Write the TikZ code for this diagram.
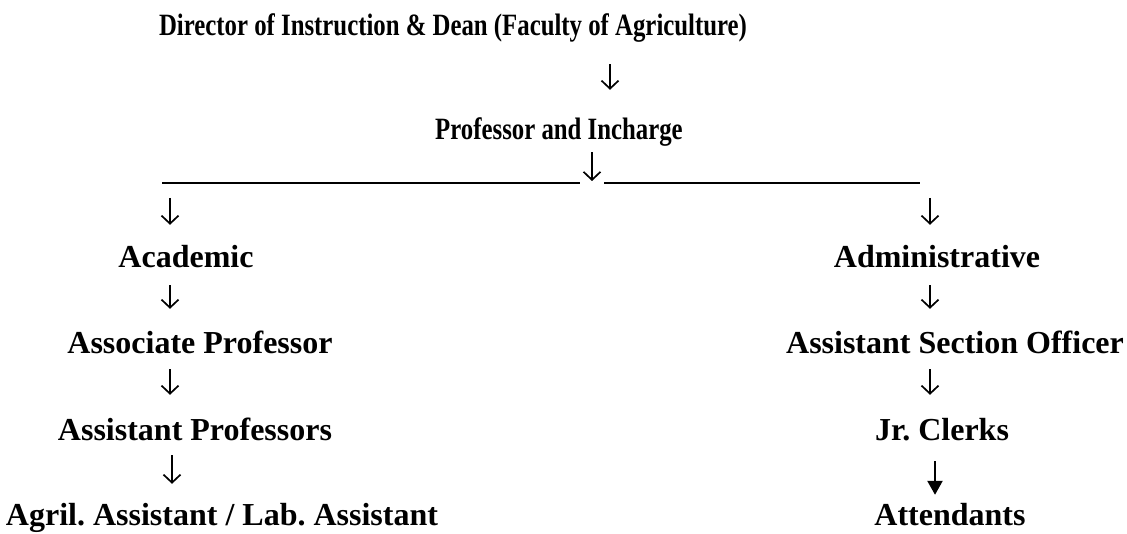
\documentclass[tikz,border=0pt]{standalone}
\usepackage{fontspec}
\setmainfont{Liberation Serif}
\newfontfamily\condfont{Liberation Serif}[FakeStretch=0.8]
\usetikzlibrary{arrows.meta}
\begin{document}
\frenchspacing
\begin{tikzpicture}[x=1pt,y=-1pt,
  big/.style={font=\fontsize{32}{38}\selectfont\bfseries, anchor=base, inner sep=0pt, text height=23pt, text depth=7pt},
  small/.style={font=\condfont\fontsize{31}{36}\selectfont\bfseries, anchor=base, inner sep=0pt, text height=22pt, text depth=7pt},
  arr/.style={line width=1.7pt, -{Straight Barb[length=8pt,width=17pt,line width=1.7pt]}, shorten <=8pt, shorten >=22pt},
  farr/.style={line width=2.4pt, -{Triangle[length=14pt,width=15pt]}},
  rule/.style={line width=2pt}]
\useasboundingbox (0,0) rectangle (1127,534);
% x positions of the arrows
\coordinate (xa) at (610,0);
\coordinate (xb) at (592,0);
\coordinate (xl) at (170,0);
\coordinate (xl2) at (172,0);
\coordinate (xr) at (930,0);
\coordinate (xf) at (935,0);
% nodes
\node[small] (dir) at (453,36) {Director of Instruction \& Dean (Faculty of Agriculture)};
\node[small] (pi) at (559,140) {Professor and Incharge};
\coordinate (bar) at (592,183);
\coordinate (barL) at (162,183);
\coordinate (barR) at (920,183);
\coordinate (barLg) at (580,183);
\coordinate (barRg) at (604,183);
\node[big] (acad) at (186,268) {Academic};
\node[big] (admin) at (937,268) {Administrative};
\node[big] (assoc) at (200,354) {Associate Professor};
\node[big] (aso) at (955,354) {Assistant Section Officer};
\node[big] (asst) at (195,440) {Assistant Professors};
\node[big] (jr) at (942,440) {Jr. Clerks};
\node[big] (agril) at (222,525) {Agril. Assistant / Lab. Assistant};
\node[big] (att) at (950,525) {Attendants};
% rule
\draw[rule] (barL) -- (barLg);
\draw[rule] (barRg) -- (barR);
% arrows
\draw[arr, shorten <=21pt, shorten >=28pt] (xa |- dir.south) -- (xa |- pi.north);
\draw[arr, shorten <=5pt, shorten >=2pt] (xb |- pi.south) -- (bar);
\draw[arr, shorten <=15pt, shorten >=20pt] (xl |- bar) -- (xl |- acad.north);
\draw[arr, shorten <=15pt, shorten >=20pt] (xr |- bar) -- (xr |- admin.north);
\draw[arr, shorten <=10pt] (xl |- acad.south) -- (xl |- assoc.north);
\draw[arr] (xl |- assoc.south) -- (xl |- asst.north);
\draw[arr, shorten <=8pt, shorten >=18pt] (xl2 |- asst.south) -- (xl2 |- agril.north);
\draw[arr, shorten <=10pt] (xr |- admin.south) -- (xr |- aso.north);
\draw[arr] (xr |- aso.south) -- (xr |- jr.north);
\draw[farr, shorten <=14pt, shorten >=7pt] (xf |- jr.south) -- (xf |- att.north);
\end{tikzpicture}
\end{document}
